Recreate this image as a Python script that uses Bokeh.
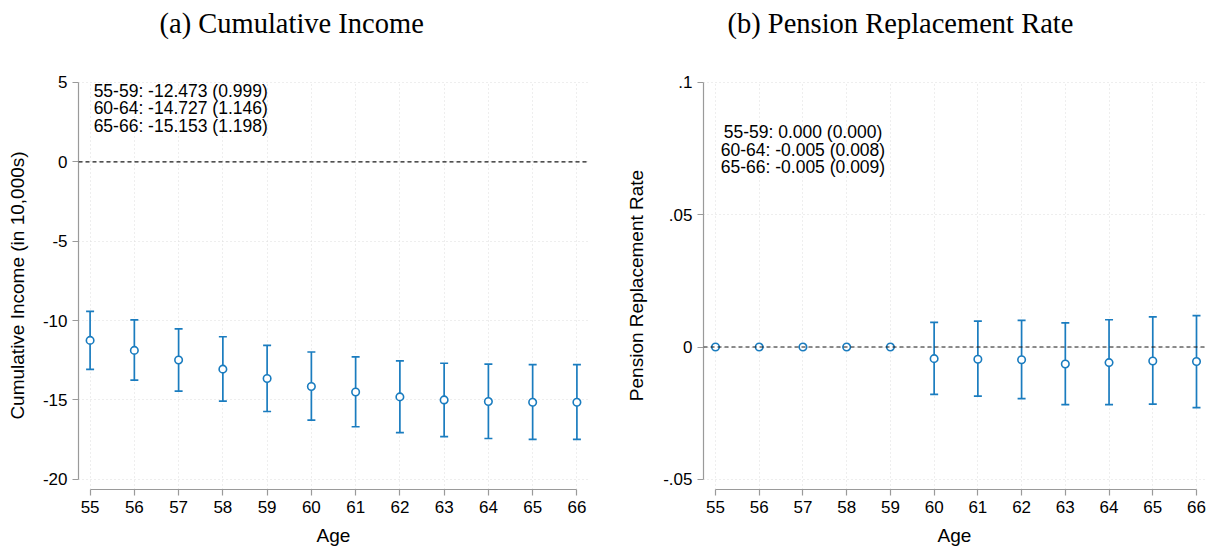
from bokeh.plotting import figure
from bokeh.layouts import row
from bokeh.models import FixedTicker, Range1d, Span, CustomJSTickFormatter, Title
from bokeh.core.properties import value
from bokeh.embed import file_html
from bokeh.resources import INLINE

# ---------------- data ----------------
ages = [55, 56, 57, 58, 59, 60, 61, 62, 63, 64, 65, 66]

inc_est = [-11.25, -11.88, -12.48, -13.06, -13.65, -14.15, -14.50, -14.81, -15.00, -15.10, -15.15, -15.15]
inc_hi = [-9.42, -9.96, -10.52, -11.02, -11.56, -11.98, -12.29, -12.54, -12.69, -12.75, -12.77, -12.77]
inc_lo = [-13.08, -13.75, -14.44, -15.08, -15.73, -16.27, -16.69, -17.06, -17.31, -17.43, -17.49, -17.49]

prr_est = [0.0, 0.0, 0.0, 0.0, 0.0, -0.0044, -0.0046, -0.0048, -0.0064, -0.0059, -0.0053, -0.0055]
prr_hi = [0.0, 0.0, 0.0, 0.0, 0.0, 0.0093, 0.0098, 0.0101, 0.0091, 0.0103, 0.0114, 0.0119]
prr_lo = [0.0, 0.0, 0.0, 0.0, 0.0, -0.0179, -0.0186, -0.0195, -0.0218, -0.0218, -0.0216, -0.0229]

inc_ticks = [-20, -15, -10, -5, 0, 5]
prr_ticks = [-0.05, 0.0, 0.05, 0.1]

inc_notes = ["55-59: -12.473 (0.999)", "60-64: -14.727 (1.146)", "65-66: -15.153 (1.198)"]
prr_notes = ["55-59: 0.000 (0.000)", "60-64: -0.005 (0.008)", "65-66: -0.005 (0.009)"]

BLUE = "#1a7cbf"
AXC = "#9a9a9a"
SANS = "Liberation Sans"

PLAIN_FMT = """
let s = (Math.round(tick * 1000) / 1000).toString();
return s;
"""
STATA_FMT = """
let s = tick.toFixed(2);
s = s.replace(/0+$/, '').replace(/\\.$/, '');
s = s.replace('0.', '.');
return s;
"""


def make_panel(title, title_offset, width, mbl, mbr, xr, yr, yticks, ylabel, est, lo, hi, ybounds, fmt):
    p = figure(width=width, height=548, output_backend="svg", toolbar_location=None,
               x_range=Range1d(*xr), y_range=Range1d(*yr), title_location=None,
               min_border_left=mbl, min_border_right=mbr, min_border_top=81, min_border_bottom=56)
    p.outline_line_color = None
    p.background_fill_color = "white"
    p.border_fill_color = "white"

    spacer = Title(text=" ", text_font_size="23px", text_font=SANS)
    p.add_layout(spacer, "above")
    t = Title(text=title, text_font="Liberation Serif", text_font_size="28.5px",
              text_font_style="normal", text_color="black", align="left", offset=title_offset)
    p.add_layout(t, "above")

    for ax in (p.xaxis[0], p.yaxis[0]):
        ax.axis_line_color = AXC
        ax.axis_line_width = 1.2
        ax.major_tick_line_color = AXC
        ax.major_tick_line_width = 1.2
        ax.major_tick_in = 0
        ax.major_tick_out = 6
        ax.minor_tick_line_color = None
        ax.major_label_text_font = SANS
        ax.major_label_text_font_size = "17px"
        ax.major_label_text_color = "black"
        ax.axis_label_text_font = SANS
        ax.axis_label_text_font_size = "19px"
        ax.axis_label_text_font_style = "normal"
        ax.axis_label_text_color = "black"
        ax.major_label_standoff = 5

    p.xaxis.ticker = FixedTicker(ticks=ages)
    p.xaxis.bounds = (ages[0], ages[-1])
    p.xaxis.axis_label = "Age"
    p.xaxis.axis_label_standoff = 9

    p.yaxis.ticker = FixedTicker(ticks=yticks)
    p.yaxis.bounds = ybounds
    p.yaxis.axis_label = ylabel
    p.yaxis.major_label_orientation = "horizontal"
    p.yaxis.formatter = CustomJSTickFormatter(code=fmt)

    p.xgrid.ticker = FixedTicker(ticks=ages)
    p.ygrid.ticker = FixedTicker(ticks=yticks)
    for g in (p.xgrid[0], p.ygrid[0]):
        g.grid_line_color = "#dcdcdc"
        g.grid_line_dash = "1 3"
        g.grid_line_width = 1

    zero = Span(location=0, dimension="width", line_color="#1a1a1a", line_dash="4 3", line_width=1.2)
    p.add_layout(zero)

    p.segment(x0=ages, y0=lo, x1=ages, y1=hi, line_color=BLUE, line_width=1.7)
    p.scatter(x=ages, y=lo, marker="dash", size=8, line_color=BLUE, line_width=1.7)
    p.scatter(x=ages, y=hi, marker="dash", size=8, line_color=BLUE, line_width=1.7)
    p.scatter(x=ages, y=est, marker="circle", size=7.5, line_color=BLUE, line_width=1.6,
              fill_color="white")
    return p


p1 = make_panel("(a) Cumulative Income", 81, 604, 78, 16,
                (54.738, 66.262), (-20.644, 5.0625), inc_ticks,
                "Cumulative Income (in 10,000s)", inc_est, inc_lo, inc_hi, (-20, 5), PLAIN_FMT)
p1.yaxis.axis_label_standoff = 12

p1.text(x=[55.08] * 3, y=[4.45, 3.37, 2.29], text=inc_notes, text_font=value(SANS),
        text_font_size="17.5px", text_align="left", text_baseline="middle", text_color="black")

p2 = make_panel("(b) Pension Replacement Rate", 24, 607, 99, 6,
                (54.7256, 66.2058), (-0.053865, 0.100375), prr_ticks,
                "Pension Replacement Rate", prr_est, prr_lo, prr_hi, (-0.05, 0.1), STATA_FMT)
p2.yaxis.axis_label_standoff = 13

p2.text(x=[57.0] * 3, y=[0.0814, 0.0745, 0.0680], text=prr_notes, text_font=value(SANS),
        text_font_size="17.5px", text_align="center", text_baseline="middle", text_color="black")

layout = row(p1, p2)
open("out.html", "w").write(file_html(layout, INLINE))
